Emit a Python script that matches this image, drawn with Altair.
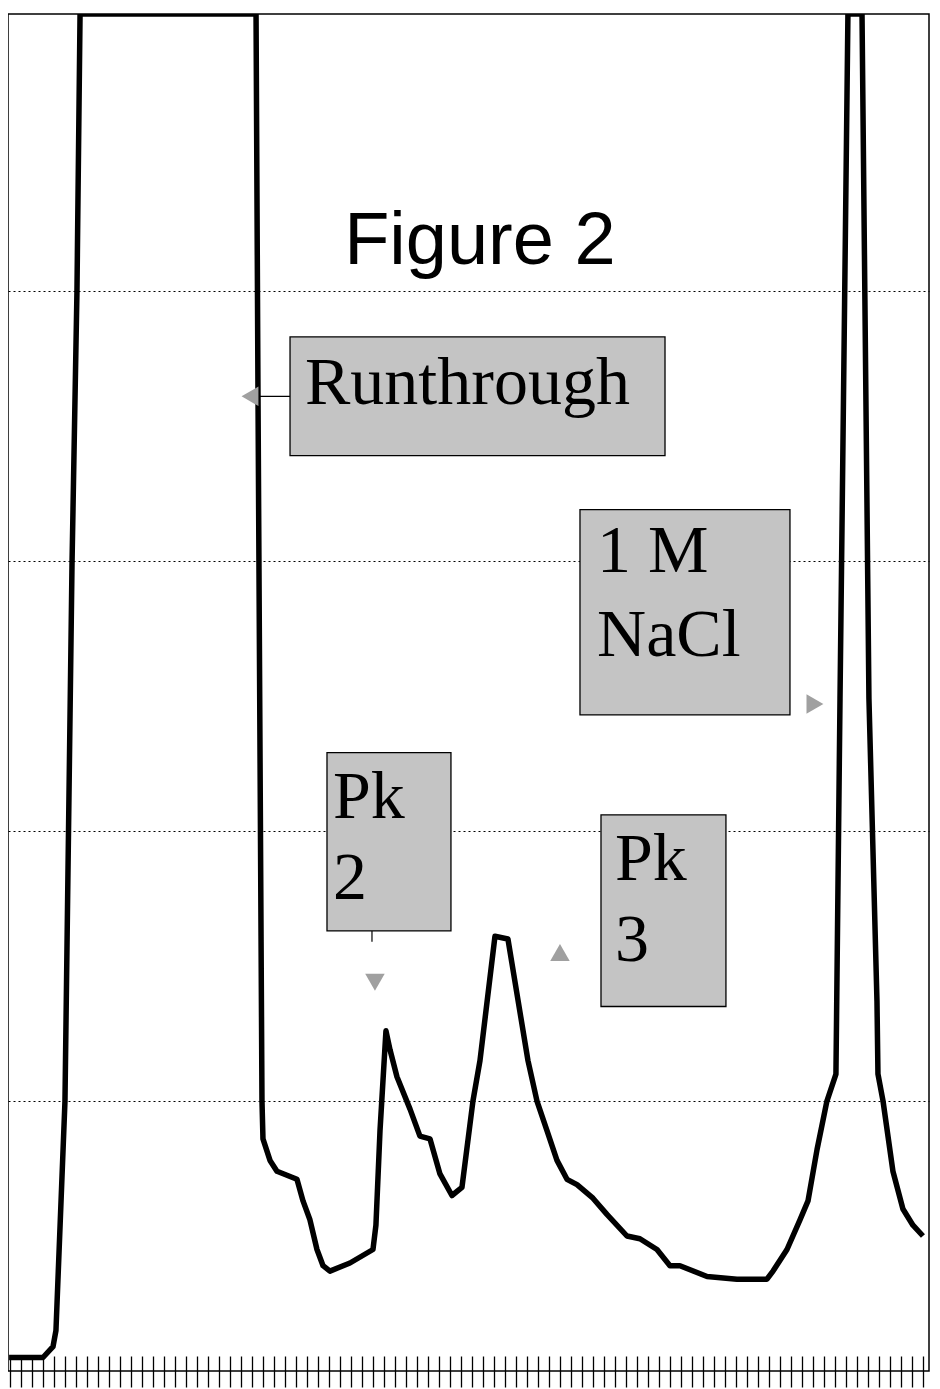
import altair as alt
import pandas as pd

# chromatogram trace (x in tick units, y in gridline units)
curve_x = [0.1, 3.18, 4.09, 4.36, 5.18, 5.82, 6.27, 6.55, 22.55, 22.73, 23.09, 23.18, 23.82, 24.45,
           26.27, 26.82, 27.45, 28.09, 28.64, 29.27, 31.09, 33.18, 33.45, 33.82, 34.36, 34.73,
           35.36, 36.55, 37.45, 38.36, 39.27, 40.36, 41.27, 42.27, 42.91, 44.27, 45.45, 47.27,
           48.09, 49.0, 49.91, 50.82, 51.73, 53.18, 54.45, 56.27, 57.45, 59.0, 60.18, 61.09,
           63.55, 66.27, 67.73, 69.0, 69.55, 70.82, 72.0, 72.73, 73.55, 74.45, 75.27, 75.64,
           76.36, 77.64, 78.27, 79.0, 79.09, 79.55, 80.45, 81.36, 82.27, 83.18]
curve_y = [0.05, 0.05, 0.09, 0.15, 1.00, 2.99, 4.00, 5.026, 5.026, 3.60, 1.00, 0.86, 0.78, 0.74,
           0.71, 0.63, 0.56, 0.45, 0.39, 0.37, 0.40, 0.45, 0.54, 0.89, 1.26, 1.19,
           1.09, 0.97, 0.87, 0.86, 0.73, 0.65, 0.68, 1.00, 1.15, 1.61, 1.60, 1.15,
           1.00, 0.89, 0.78, 0.71, 0.69, 0.64, 0.58, 0.50, 0.49, 0.45, 0.39, 0.39,
           0.35, 0.34, 0.34, 0.34, 0.37, 0.45, 0.56, 0.63, 0.82, 1.00, 1.10, 2.49,
           5.026, 5.026, 2.49, 1.37, 1.10, 1.00, 0.74, 0.60, 0.54, 0.50]

x_ticks = [0.2 + i for i in range(84)]
grid_values = [1, 2, 3, 4]

# annotation boxes
box_x1 = [25.64, 52.0, 29.0, 53.91]
box_x2 = [59.73, 71.09, 40.27, 65.27]
box_y1 = [3.83, 3.19, 2.29, 2.06]
box_y2 = [3.39, 2.43, 1.63, 1.35]

# annotation text lines
label_text = ["Runthrough", "1 M", "NaCl", "Pk", "2", "Pk", "3"]
label_x = [27.0, 53.55, 53.55, 29.55, 29.55, 55.18, 55.18]
label_y = [3.58, 2.96, 2.65, 2.05, 1.75, 1.82, 1.52]

# small arrow heads
arrow_x = [22.0, 73.36, 33.36, 50.18]
arrow_y = [3.61, 2.47, 1.44, 1.55]
arrow_shape = ["left", "right", "down", "up"]

title_text = ["Figure 2"]
title_x = [42.9]
title_y = [4.10]

X_MAX = 83.73
Y_MAX = 5.026
xs = alt.Scale(domain=[0, X_MAX], nice=False, zero=False)
ys = alt.Scale(domain=[0, Y_MAX], nice=False, zero=False)

x_axis = alt.Axis(values=x_ticks, labels=False, domain=False, grid=False,
                  tickSize=31, offset=-15, tickColor="black", tickWidth=1.3, title=None)
y_axis = alt.Axis(values=grid_values, labels=False, ticks=False, domain=False,
                  grid=True, gridColor="black", gridDash=[2, 3], gridWidth=1, title=None)


def X(field):
    return alt.X(field, scale=xs, axis=x_axis, title=None)


def Y(field):
    return alt.Y(field, scale=ys, axis=y_axis, title=None)


curve_df = pd.DataFrame({"t": curve_x, "a": curve_y, "i": list(range(len(curve_x)))})
line = alt.Chart(curve_df).mark_line(
    color="black", strokeWidth=5.5, strokeJoin="round", clip=True
).encode(x=X("t:Q"), y=Y("a:Q"), order="i:Q")

box_df = pd.DataFrame({"x1": box_x1, "x2": box_x2, "y1": box_y1, "y2": box_y2})
boxes = alt.Chart(box_df).mark_rect(fill="#c4c4c4", stroke="black", strokeWidth=1.3).encode(
    x=X("x1:Q"), x2="x2:Q", y=Y("y1:Q"), y2="y2:Q",
)

lab_df = pd.DataFrame({"s": label_text, "x": label_x, "y": label_y})
labels = alt.Chart(lab_df).mark_text(
    font="Liberation Serif", fontSize=68, align="left", baseline="alphabetic", color="black"
).encode(x=X("x:Q"), y=Y("y:Q"), text="s:N")

arr_df = pd.DataFrame({"x": arrow_x, "y": arrow_y, "s": arrow_shape})
arrows = alt.Chart(arr_df).mark_point(filled=True, color="#a0a0a0", opacity=1, size=380).encode(
    x=X("x:Q"), y=Y("y:Q"),
    shape=alt.Shape("s:N", scale=alt.Scale(domain=["left", "right", "down", "up"],
                                           range=["triangle-left", "triangle-right", "triangle-down", "triangle-up"]),
                    legend=None),
)

conn_df = pd.DataFrame({"x": [22.73, 33.09], "x2": [25.64, 33.09], "y": [3.61, 1.63], "y2": [3.61, 1.59]})
connectors = alt.Chart(conn_df).mark_rule(color="black", strokeWidth=1.2).encode(
    x=X("x:Q"), x2="x2:Q", y=Y("y:Q"), y2="y2:Q",
)

ttl_df = pd.DataFrame({"s": title_text, "x": title_x, "y": title_y})
title = alt.Chart(ttl_df).mark_text(
    font="Liberation Sans", fontSize=74, align="center", baseline="alphabetic", color="black"
).encode(x=X("x:Q"), y=Y("y:Q"), text="s:N")

chart = alt.layer(line, connectors, boxes, labels, arrows, title).properties(
    width=921, height=1357,
    padding={"left": 0, "top": 6, "right": 2, "bottom": 0},
).configure_view(stroke="black", strokeWidth=1.5)

chart.save("out.html", embed_options={"renderer": "svg", "actions": False})
